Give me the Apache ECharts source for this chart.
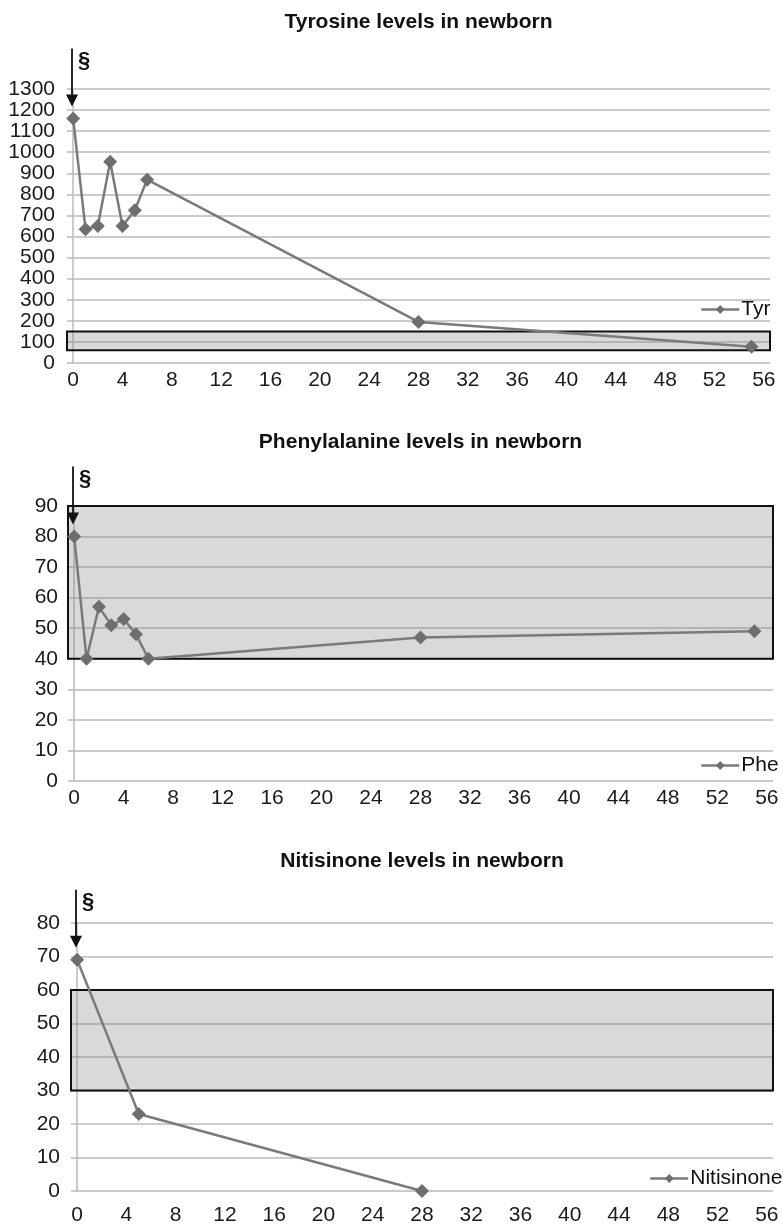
<!DOCTYPE html>
<html>
<head>
<meta charset="utf-8">
<script src="https://cdn.jsdelivr.net/npm/echarts@6/dist/echarts.min.js"></script>
<style>
  html, body { margin: 0; padding: 0; background: #fff; }
  #chart { width: 783px; height: 1226px; }
</style>
</head>
<body>
<div id="chart"></div>
<script>
const FONT = '"Liberation Sans", Arial, sans-serif';
const LINE = "#7a7a7a";
const MARK = "#6e6e6e";
const GRID = "#bababa";

// days after birth
const xTicks = [0, 4, 8, 12, 16, 20, 24, 28, 32, 36, 40, 44, 48, 52, 56];

const tyrDays = [0, 1, 2, 3, 4, 5, 6, 28, 55];
const tyrValues = [1160, 635, 650, 955, 650, 725, 870, 195, 77];
const tyrRange = [60, 150];

const pheDays = [0, 1, 2, 3, 4, 5, 6, 28, 55];
const pheValues = [80, 40, 57, 51, 53, 48, 40, 47, 49];
const pheRange = [40, 90];

const nitDays = [0, 5, 28];
const nitValues = [69, 23, 0];
const nitRange = [30, 60];

const panels = [
  { title: "Tyrosine levels in newborn", name: "Tyr", days: tyrDays, values: tyrValues, range: tyrRange,
    yMax: 1300, yStep: 100, grid: { left: 67, right: 13, top: 89, height: 274 }, xMargin: 7, yMargin: 12,
    titleTop: 12, legend: { left: 700, top: 299 } },
  { title: "Phenylalanine levels in newborn", name: "Phe", days: pheDays, values: pheValues, range: pheRange,
    yMax: 90, yStep: 10, grid: { left: 68, right: 10, top: 506, height: 275 }, xMargin: 7, yMargin: 10,
    titleTop: 432, legend: { left: 700, top: 755 } },
  { title: "Nitisinone levels in newborn", name: "Nitisinone", days: nitDays, values: nitValues, range: nitRange,
    yMax: 80, yStep: 10, grid: { left: 71, right: 10, top: 923, height: 270 }, xMargin: 14, yMargin: 11,
    titleTop: 851, legend: { left: 649, top: 1168 } },
];

const chart = echarts.init(document.getElementById("chart"), null, { renderer: "canvas" });

chart.setOption({
  animation: false,
  backgroundColor: "#fff",
  textStyle: { fontFamily: FONT },
  title: panels.map((p) => ({
    text: p.title,
    left: p.grid.left + (783 - p.grid.left - p.grid.right) / 2,
    textAlign: "center",
    top: p.titleTop,
    padding: 0,
    textStyle: { fontFamily: FONT, fontSize: 21, fontWeight: "bold", color: "#111" },
  })),
  legend: panels.map((p) => ({
    data: [p.name],
    left: p.legend.left,
    top: p.legend.top,
    padding: 0,
    itemWidth: 38,
    itemHeight: 11,
    lineStyle: { width: 2.5, color: LINE },
    textStyle: { fontFamily: FONT, fontSize: 21, color: "#111", padding: [0, 0, 0, -3] },
  })),
  grid: panels.map((p) => p.grid),
  xAxis: panels.map((p, i) => ({
    type: "value",
    gridIndex: i,
    min: -0.5,
    max: 56.5,
    axisLine: { show: false },
    axisTick: { show: false },
    splitLine: { show: false },
    axisLabel: {
      customValues: xTicks,
      margin: p.xMargin,
      fontFamily: FONT,
      fontSize: 21,
      color: "#1a1a1a",
    },
  })),
  yAxis: panels.map((p, i) => ({
    type: "value",
    gridIndex: i,
    min: 0,
    max: p.yMax,
    interval: p.yStep,
    axisLine: { show: true, lineStyle: { color: GRID, width: 1.5 } },
    axisTick: { show: false },
    splitLine: { show: true, lineStyle: { color: GRID, width: 1.5 } },
    axisLabel: {
      margin: p.yMargin,
      fontFamily: FONT,
      fontSize: 21,
      color: "#1a1a1a",
      formatter: (v) => String(v),
    },
  })),
  series: panels.map((p, i) => ({
    name: p.name,
    type: "line",
    xAxisIndex: i,
    yAxisIndex: i,
    data: p.days.map((d, k) => [d, p.values[k]]),
    symbol: "diamond",
    symbolSize: 14,
    lineStyle: { color: LINE, width: 2.5 },
    itemStyle: { color: MARK },
    clip: false,
    markArea: {
      silent: true,
      itemStyle: { color: "rgba(128,128,128,0.3)", borderColor: "#111", borderWidth: 2 },
      data: [[{ yAxis: p.range[0] }, { yAxis: p.range[1] }]],
    },
  })),
});

// arrow + section mark pointing at the first sample of each panel
const graphics = [];
panels.forEach((p, i) => {
  const pt = chart.convertToPixel({ gridIndex: i }, [p.days[0], p.values[0]]);
  const x = Math.round(pt[0]) - 1;
  const tip = pt[1] - 12;
  const start = tip - 58;
  graphics.push({
    type: "line",
    shape: { x1: x, y1: start, x2: x, y2: tip - 10 },
    style: { stroke: "#111", lineWidth: 1.8 },
    z: 10,
  });
  graphics.push({
    type: "polygon",
    shape: { points: [[x - 6, tip - 12], [x + 6, tip - 12], [x, tip]] },
    style: { fill: "#111" },
    z: 10,
  });
  graphics.push({
    type: "text",
    x: x + 6,
    y: start + 1,
    style: { text: "§", fontFamily: FONT, fontSize: 22, fontWeight: "bold", fill: "#111" },
    z: 10,
  });
});
chart.setOption({ graphic: graphics });
</script>
</body>
</html>
